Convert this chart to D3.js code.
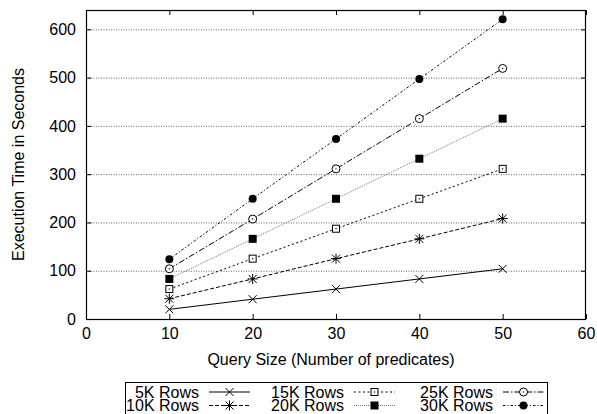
<!DOCTYPE html>
<html>
<head>
<meta charset="utf-8">
<script src="https://cdn.jsdelivr.net/npm/d3@7"></script>
<style>
  body { margin: 0; background: #fff; }
  svg { display: block; font-family: "Liberation Sans", Arial, Helvetica, sans-serif; }
</style>
</head>
<body>
<script>
// query size on the x axis
var querySizes = [10, 20, 30, 40, 50];

// execution time (seconds) per table size
var rows5k  = [20, 41, 62, 83, 104];
var rows10k = [42, 83, 125, 166, 208];
var rows15k = [62, 125, 187, 249, 311];
var rows20k = [83, 166, 249, 332, 415];
var rows25k = [104, 207, 311, 415, 519];
var rows30k = [124, 249, 373, 497, 621];

var seriesNames = ["5K Rows", "10K Rows", "15K Rows", "20K Rows", "25K Rows", "30K Rows"];
var xTicks = [0, 10, 20, 30, 40, 50, 60];
var yTicks = [0, 100, 200, 300, 400, 500, 600];

var width = 597, height = 414;
var margin = { left: 86, top: 10, right: 11, bottom: 95 };
var plotW = width - margin.left - margin.right;
var plotH = height - margin.top - margin.bottom;

var series = [
  { name: seriesNames[0], values: rows5k,  dash: null,        color: "#000", marker: "times" },
  { name: seriesNames[1], values: rows10k, dash: "4,2",       color: "#000", marker: "star" },
  { name: seriesNames[2], values: rows15k, dash: "2,2.5",     color: "#000", marker: "boxDot" },
  { name: seriesNames[3], values: rows20k, dash: "1,1",       color: "#777", marker: "box" },
  { name: seriesNames[4], values: rows25k, dash: "6,2,1.5,2", color: "#000", marker: "circleDot" },
  { name: seriesNames[5], values: rows30k, dash: "2.5,2,1,2", color: "#000", marker: "circle" }
];

var svg = d3.select("body").append("svg")
  .attr("width", width)
  .attr("height", height);

var x = d3.scaleLinear().domain([0, 60]).range([0, plotW]);
var y = d3.scaleLinear().domain([0, 640]).range([plotH, 0]);

var g = svg.append("g")
  .attr("transform", "translate(" + margin.left + "," + margin.top + ")");

// dotted horizontal grid
g.selectAll(".grid").data(yTicks.filter(function(d) { return d > 0; })).enter()
  .append("line")
  .attr("x1", 0).attr("x2", plotW)
  .attr("y1", function(d) { return y(d) + 0.5; })
  .attr("y2", function(d) { return y(d) + 0.5; })
  .attr("stroke", "#666")
  .attr("stroke-width", 1)
  .attr("stroke-dasharray", "1,1.5");

// axes, ticks pointing inward, mirrored on top/right
var fontSize = "16px";
var bottomAxis = d3.axisBottom(x).tickValues(xTicks).tickSize(-5).tickPadding(9);
var leftAxis = d3.axisLeft(y).tickValues(yTicks).tickSize(-5).tickPadding(10);

var gx = g.append("g").attr("transform", "translate(0," + plotH + ")").call(bottomAxis);
var gy = g.append("g").call(leftAxis);
g.append("g").call(d3.axisTop(x).tickValues(xTicks).tickSize(-5).tickFormat(""));
g.append("g").attr("transform", "translate(" + plotW + ",0)")
  .call(d3.axisRight(y).tickValues(yTicks).tickSize(-5).tickFormat(""));

g.selectAll(".domain").remove();
g.selectAll(".tick line").attr("stroke", "#000");
[gx, gy].forEach(function(a) {
  a.selectAll("text").attr("font-size", fontSize).attr("fill", "#000")
    .attr("font-family", "Liberation Sans, Arial, sans-serif");
});
gx.selectAll("text").attr("dy", "0.71em");

// frame
g.append("rect")
  .attr("x", 0.5).attr("y", 0.5)
  .attr("width", plotW - 1).attr("height", plotH)
  .attr("fill", "none").attr("stroke", "#000").attr("stroke-width", 1.2);

// axis titles
svg.append("text")
  .attr("x", margin.left + plotW / 2 - 5)
  .attr("y", 365)
  .attr("text-anchor", "middle")
  .attr("font-size", fontSize)
  .text("Query Size (Number of predicates)");

svg.append("text")
  .attr("transform", "translate(24," + (margin.top + plotH / 2) + ") rotate(-90)")
  .attr("text-anchor", "middle")
  .attr("font-size", fontSize)
  .text("Execution Time in Seconds");

// marker drawing
function drawMarker(sel, type, cx, cy) {
  var r = 4;
  if (type === "times") {
    sel.append("path")
      .attr("d", "M" + (cx - r) + "," + (cy - r) + "L" + (cx + r) + "," + (cy + r) +
                 "M" + (cx - r) + "," + (cy + r) + "L" + (cx + r) + "," + (cy - r))
      .attr("stroke", "#000").attr("stroke-width", 1).attr("fill", "none");
  } else if (type === "star") {
    sel.append("path")
      .attr("d", "M" + (cx - r) + "," + (cy - r) + "L" + (cx + r) + "," + (cy + r) +
                 "M" + (cx - r) + "," + (cy + r) + "L" + (cx + r) + "," + (cy - r) +
                 "M" + cx + "," + (cy - r - 1) + "L" + cx + "," + (cy + r + 1) +
                 "M" + (cx - r - 1) + "," + cy + "L" + (cx + r + 1) + "," + cy)
      .attr("stroke", "#000").attr("stroke-width", 1).attr("fill", "none");
  } else if (type === "boxDot") {
    sel.append("rect")
      .attr("x", cx - r + 0.5).attr("y", cy - r + 0.5)
      .attr("width", 2 * r - 1).attr("height", 2 * r - 1)
      .attr("fill", "#fff").attr("stroke", "#000").attr("stroke-width", 1);
    sel.append("rect").attr("x", cx - 0.6).attr("y", cy - 0.6)
      .attr("width", 1.2).attr("height", 1.2).attr("fill", "#000");
  } else if (type === "box") {
    sel.append("rect")
      .attr("x", cx - r).attr("y", cy - r)
      .attr("width", 2 * r).attr("height", 2 * r)
      .attr("fill", "#000");
  } else if (type === "circleDot") {
    sel.append("circle").attr("cx", cx).attr("cy", cy).attr("r", r)
      .attr("fill", "#fff").attr("stroke", "#000").attr("stroke-width", 1);
    sel.append("circle").attr("cx", cx).attr("cy", cy).attr("r", 0.7).attr("fill", "#000");
  } else if (type === "circle") {
    sel.append("circle").attr("cx", cx).attr("cy", cy).attr("r", r).attr("fill", "#000");
  }
}

// series lines and points
var line = d3.line()
  .x(function(d, i) { return x(querySizes[i]); })
  .y(function(d) { return y(d); });

series.forEach(function(s) {
  g.append("path")
    .attr("d", line(s.values))
    .attr("fill", "none")
    .attr("stroke", s.color)
    .attr("stroke-width", 1)
    .attr("stroke-dasharray", s.dash);
});
series.forEach(function(s) {
  var mg = g.append("g");
  s.values.forEach(function(v, i) {
    drawMarker(mg, s.marker, x(querySizes[i]), y(v));
  });
});

// legend
var legend = svg.append("g");
legend.append("rect")
  .attr("x", 125.5).attr("y", 382.5)
  .attr("width", 422).attr("height", 40)
  .attr("fill", "#fff").attr("stroke", "#000").attr("stroke-width", 1);

var colTextEnd = [199, 344, 493];
var rowY = [392, 405.5];

series.forEach(function(s, i) {
  var col = Math.floor(i / 2), row = i % 2;
  var tx = colTextEnd[col], ty = rowY[row];
  legend.append("text")
    .attr("x", tx).attr("y", ty)
    .attr("dy", "0.36em")
    .attr("text-anchor", "end")
    .attr("font-size", fontSize)
    .text(s.name);
  var lx1 = tx + 10, lx2 = tx + 51;
  legend.append("line")
    .attr("x1", lx1).attr("x2", lx2)
    .attr("y1", ty).attr("y2", ty)
    .attr("stroke", s.color).attr("stroke-width", 1)
    .attr("stroke-dasharray", s.dash);
  drawMarker(legend, s.marker, (lx1 + lx2) / 2, ty);
});
</script>
</body>
</html>
